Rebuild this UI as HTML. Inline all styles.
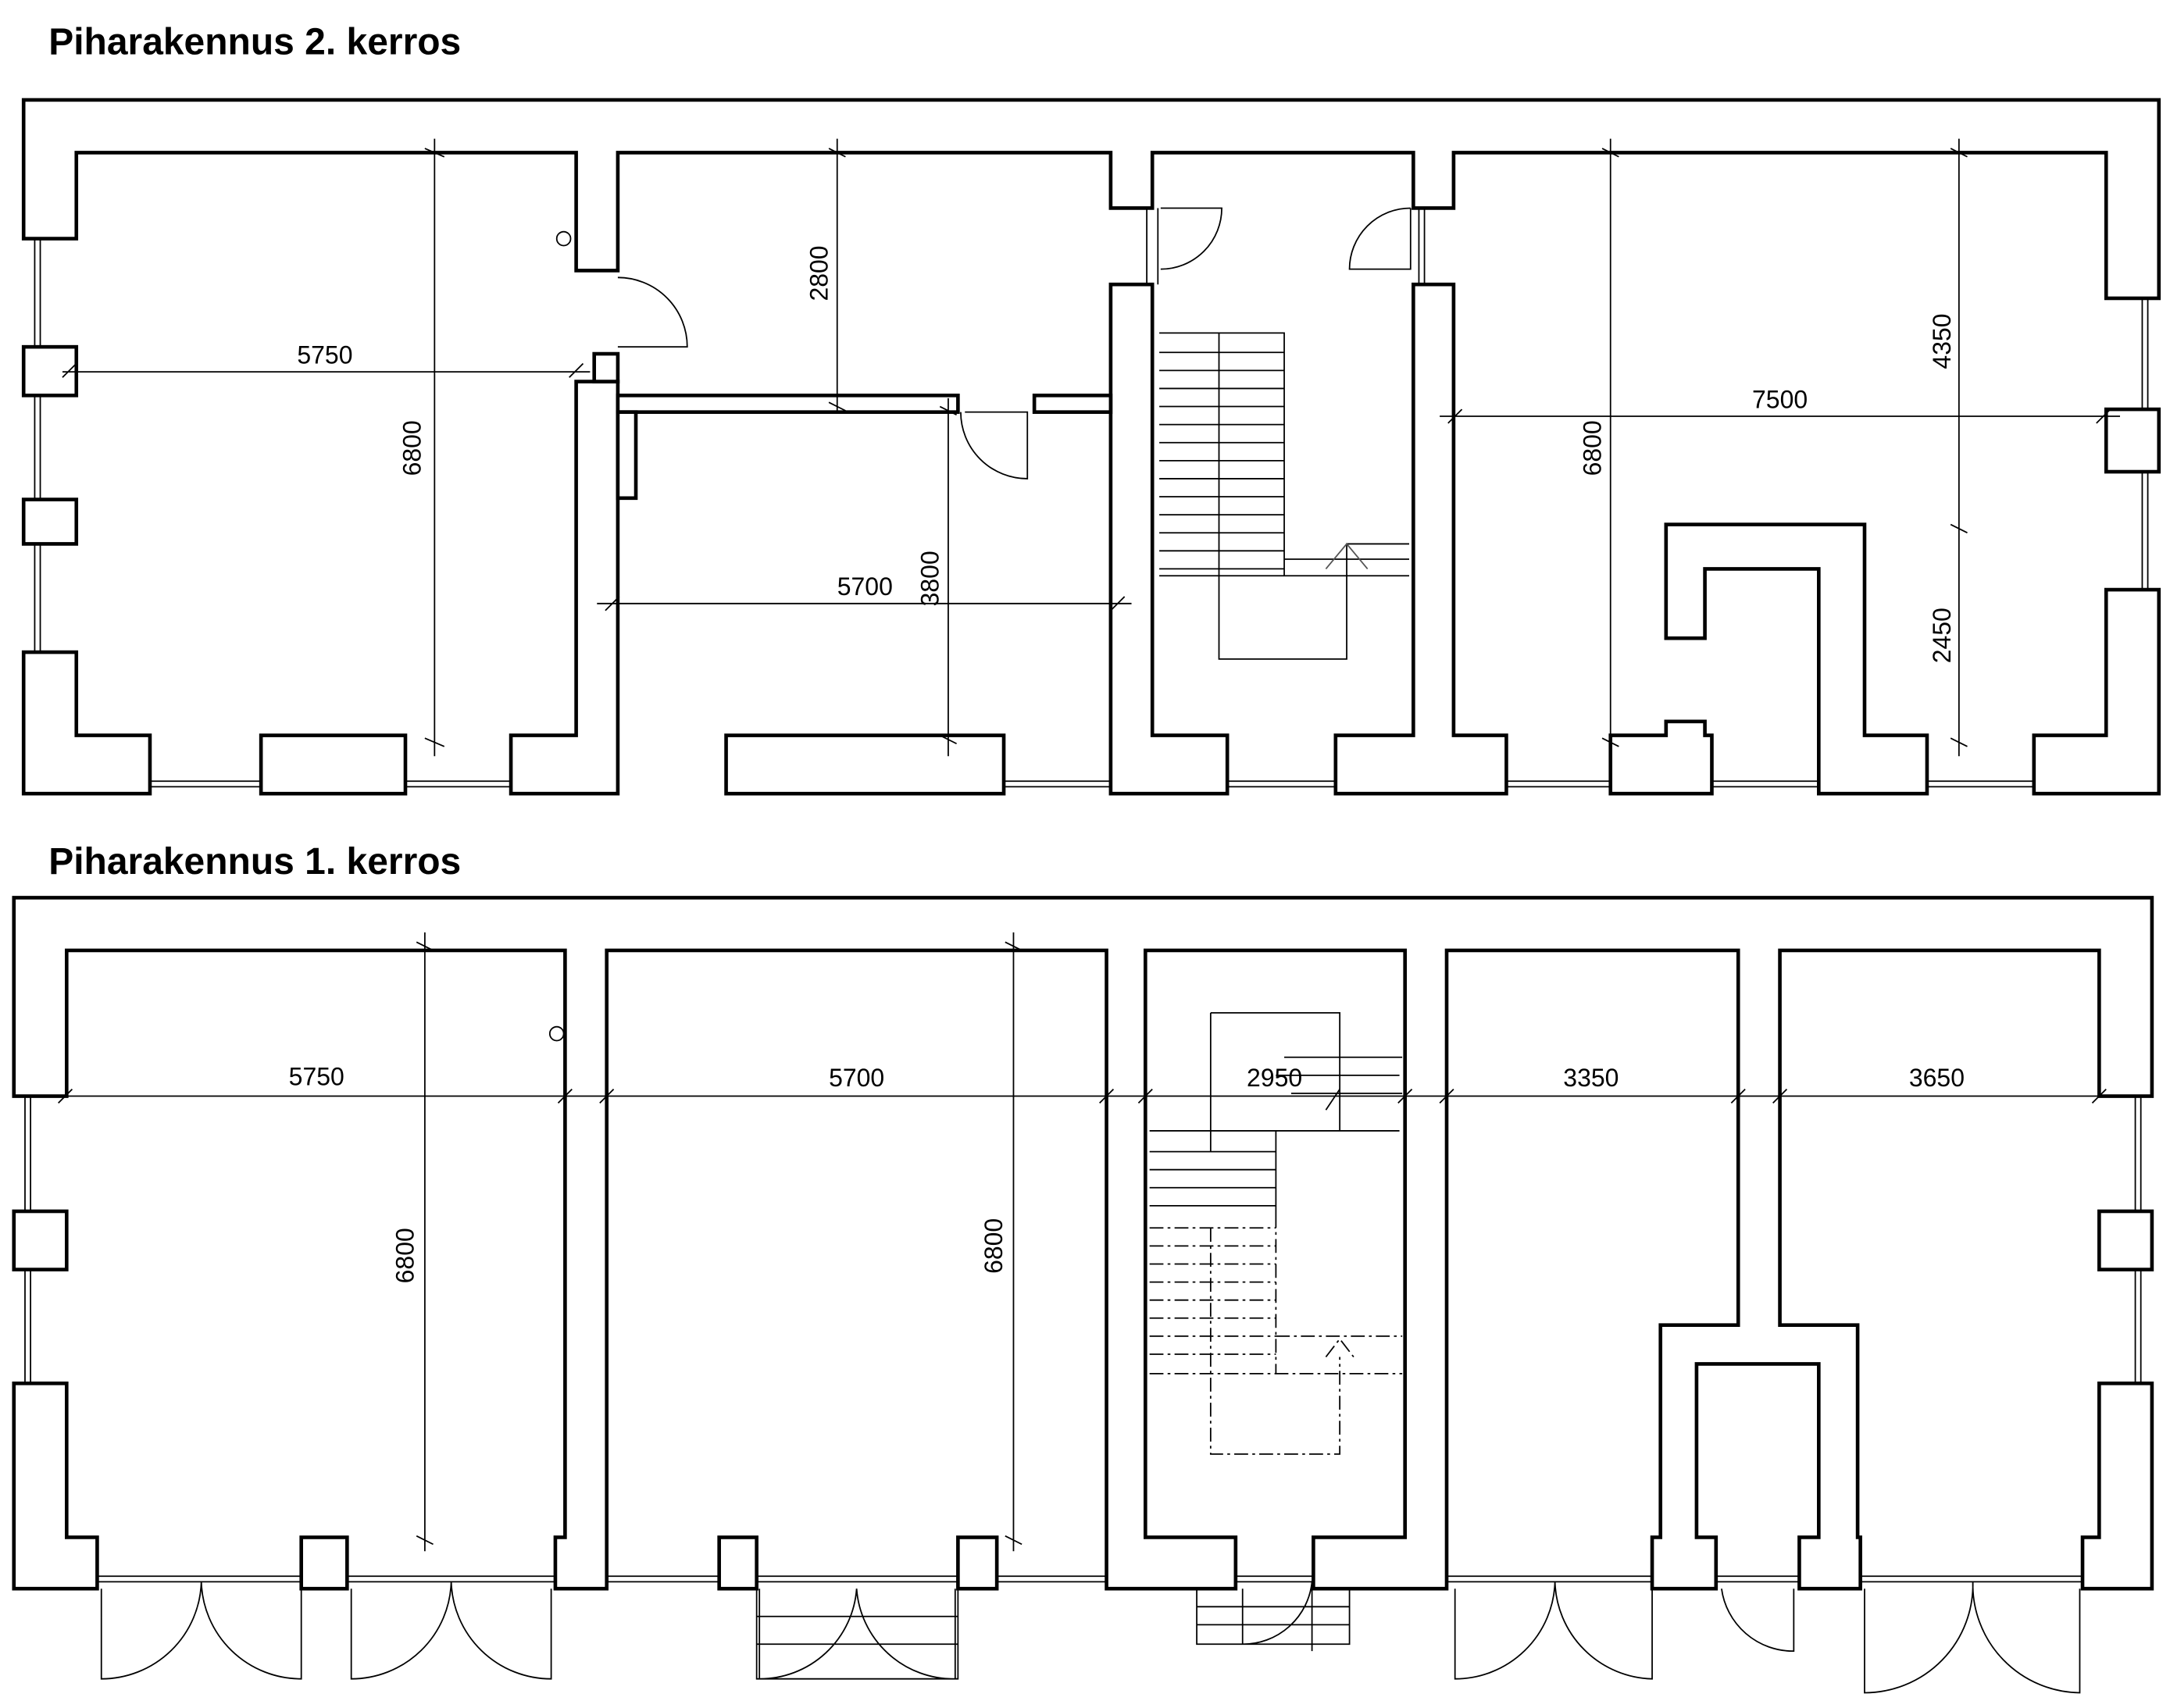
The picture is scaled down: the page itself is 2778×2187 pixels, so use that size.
<!DOCTYPE html>
<html><head><meta charset="utf-8"><style>
html,body{margin:0;padding:0;background:#fff;}
svg{display:block;}
text{font-family:"Liberation Sans",Arial,sans-serif;}
</style></head><body>
<svg width="2778" height="2187" viewBox="0 0 1563 1231" preserveAspectRatio="none" xmlns="http://www.w3.org/2000/svg">
<rect width="1563" height="1231" fill="#fff"/>
<text x="35" y="39" font-size="27" font-weight="bold">Piharakennus 2. kerros</text>
<text x="35" y="630" font-size="27" font-weight="bold">Piharakennus 1. kerros</text>

<g fill="#fff" stroke="#000" stroke-width="2.6" stroke-linejoin="miter">
<path d="M17,172 V72 H1555 V215 H1517 V110 H1047 V150 H1018 V110 H830 V150 H800 V110 H445 V195 H415 V110 H55 V172 Z"/>
<path d="M17,470 H55 V530 H108 V572 H17 Z"/>
<rect x="17" y="250" width="38" height="35"/>
<rect x="17" y="360" width="38" height="32"/>
<rect x="188" y="530" width="104" height="42"/>
<path d="M368,572 V530 H415 V275 H445 V572 Z"/>
<rect x="428" y="255" width="17" height="20"/>
<rect x="523" y="530" width="200" height="42"/>
<path d="M800,572 V205 H830 V530 H884 V572 Z"/>
<path d="M962,572 V530 H1018 V205 H1047 V530 H1085 V572 Z"/>
<path d="M1160,572 V530 H1200 V520 H1228 V530 H1233 V572 Z"/>
<path d="M1200,460 V378 H1343 V530 H1388 V572 H1310 V410 H1228 V460 Z"/>
<path d="M1465,572 V530 H1517 V425 H1555 V572 Z"/>
<rect x="1517" y="295" width="38" height="45"/>
<rect x="445" y="285" width="245" height="12"/>
<rect x="745" y="285" width="55" height="12"/>
<rect x="445" y="297" width="13" height="62"/>
</g>
<g fill="none" stroke="#000" stroke-width="1">
<path d="M108,563 H188 M108,567 H188 M292,563 H368 M292,567 H368 M723,563 H800 M723,567 H800 M884,563 H962 M884,567 H962 M1085,563 H1160 M1085,567 H1160 M1233,563 H1310 M1233,567 H1310 M1388,563 H1465 M1388,567 H1465"/>
<path d="M25,172 V250 M29,172 V250 M25,285 V360 M29,285 V360 M25,392 V470 M29,392 V470"/>
<path d="M1543,215 V295 M1547,215 V295 M1543,340 V425 M1547,340 V425"/>
<path d="M826,150 V205 M834,150 V205 M1022,150 V205 M1026,150 V205"/>
<path d="M445,200 A50,50 0 0 1 495,250 H445" />
<path d="M836,150 H880 A44,44 0 0 1 836,194"/>
<path d="M1016,150 V194 H972 A44,44 0 0 1 1016,150"/>
<path d="M695,297 H740 V345 A48,48 0 0 1 692,297"/>
<circle cx="406" cy="172" r="5"/>
<path d="M835,240 H925 V415 M878,240 V475 H970 V392 H1015 M835,415 H1015 M925,403 H1015"/>
<path d="M835,254 H925 M835,267 H925 M835,280 H925 M835,293 H925 M835,306 H925 M835,319 H925 M835,332 H925 M835,345 H925 M835,358 H925 M835,371 H925 M835,384 H925 M835,397 H925 M835,410 H925"/>
<path d="M955,410 L970,392 L985,410" stroke="#555"/>
</g>
<g fill="none" stroke="#000" stroke-width="1">
<path d="M313,100 V545 M306,107 L320,113 M306,532 L320,538"/>
<path d="M45,268 H425 M45,272 L55,262 M410,272 L420,262"/>
<path d="M603,100 V298 M597,107 L609,113 M597,290 L609,296"/>
<path d="M430,435 H815 M436,440 L446,430 M800,440 L810,430"/>
<path d="M683,287 V545 M677,293 L689,299 M677,530 L689,536"/>
<path d="M1160,100 V545 M1154,107 L1166,113 M1154,532 L1166,538"/>
<path d="M1037,300 H1527 M1043,305 L1053,295 M1510,305 L1520,295"/>
<path d="M1411,100 V545 M1405,107 L1417,113 M1405,378 L1417,384 M1405,532 L1417,538"/>
</g>
<g font-size="18" fill="#000">
<text x="214" y="262">5750</text>
<text x="603" y="429">5700</text>
<text x="1262" y="294">7500</text>
<text transform="translate(303,343) rotate(-90)">6800</text>
<text transform="translate(596,217) rotate(-90)">2800</text>
<text transform="translate(676,437) rotate(-90)">3800</text>
<text transform="translate(1153,343) rotate(-90)">6800</text>
<text transform="translate(1405,266) rotate(-90)">4350</text>
<text transform="translate(1405,478) rotate(-90)">2450</text>
</g>

<g fill="#fff" stroke="#000" stroke-width="2.6">
<path d="M10,790 V647 H1550 V790 H1512 V685 H1282 V955 H1338 V1108 H1340 V1145 H1296 V1108 H1310 V983 H1222 V1108 H1236 V1145 H1190 V1108 H1196 V955 H1252 V685 H1042 V1145 H946 V1108 H1012 V685 H825 V1108 H890 V1145 H797 V685 H437 V1145 H400 V1108 H407 V685 H48 V790 Z"/>
<path d="M10,997 H48 V1108 H70 V1145 H10 Z"/>
<path d="M1550,997 H1512 V1108 H1500 V1145 H1550 Z"/>
<rect x="10" y="873" width="38" height="42"/>
<rect x="1512" y="873" width="38" height="42"/>
<rect x="217" y="1108" width="33" height="37"/>
<rect x="518" y="1108" width="27" height="37"/>
<rect x="690" y="1108" width="28" height="37"/>
</g>
<g fill="none" stroke="#000" stroke-width="1">
<path d="M70,1136 H217 M70,1140 H217 M250,1136 H400 M250,1140 H400 M437,1136 H518 M437,1140 H518 M545,1136 H690 M545,1140 H690 M718,1136 H797 M718,1140 H797 M890,1136 H946 M890,1140 H946 M1042,1136 H1190 M1042,1140 H1190 M1236,1136 H1296 M1236,1140 H1296 M1340,1136 H1500 M1340,1140 H1500"/>
<path d="M18,790 V873 M22,790 V873 M18,915 V997 M22,915 V997 M1538,790 V873 M1542,790 V873 M1538,915 V997 M1542,915 V997"/>
<path d="M73,1145 V1210 A72,72 0 0 0 145,1140 A72,72 0 0 0 217,1210 V1145"/>
<path d="M253,1145 V1210 A72,72 0 0 0 325,1140 A72,72 0 0 0 397,1210 V1145"/>
<path d="M1048,1145 V1210 A72,72 0 0 0 1120,1140 A72,72 0 0 0 1190,1210 V1145"/>
<path d="M1343,1145 V1220 A78,78 0 0 0 1421,1140 A78,78 0 0 0 1498,1220 V1145"/>
<path d="M1240,1145 A52,52 0 0 0 1292,1190 V1145"/>
<path d="M545,1145 V1210 H690 V1145 M545,1165 H690 M545,1185 H690 M547,1145 V1210 A70,70 0 0 0 617,1145 A70,70 0 0 0 688,1210 V1145"/>
<path d="M862,1145 V1185 H972 V1145 M862,1158 H972 M862,1171 H972 M895,1145 V1185 A50,50 0 0 0 945,1140 M945,1145 V1190"/>
<circle cx="401" cy="745" r="5"/>
<path d="M872,730 H965 V815 H1008 M872,730 V830 M919,775 H1008 M828,815 H1008 M919,815 V875"/>
<path d="M828,830 H919 M828,843 H919 M828,856 H919 M828,869 H919"/>
<g stroke-dasharray="10,3,2,3">
<path d="M828,885 H919 M828,898 H919 M828,911 H919 M828,924 H919 M828,937 H919 M828,950 H919 M828,963 H919 M828,976 H919 M828,990 H1010 M919,963 H1010 M872,885 V1048 H965 V978 M919,875 V990"/>
<path d="M955,978 L965,965 L975,978"/>
</g>
<path d="M925,762 H1010 M930,788 H1010 M965,785 L955,800"/>
</g>
<g fill="none" stroke="#000" stroke-width="1">
<path d="M306,672 V1118 M300,679 L312,685 M300,1107 L312,1113"/>
<path d="M730,672 V1118 M724,679 L736,685 M724,1107 L736,1113"/>
<path d="M15,790 H1545"/>
<path d="M42,795 L52,785 M402,795 L412,785 M432,795 L442,785 M792,795 L802,785 M820,795 L830,785 M1007,795 L1017,785 M1037,795 L1047,785 M1247,795 L1257,785 M1277,795 L1287,785 M1507,795 L1517,785"/>
</g>
<g font-size="18" fill="#000">
<text x="208" y="782">5750</text>
<text x="597" y="783">5700</text>
<text x="898" y="783">2950</text>
<text x="1126" y="783">3350</text>
<text x="1375" y="783">3650</text>
<text transform="translate(298,925) rotate(-90)">6800</text>
<text transform="translate(722,918) rotate(-90)">6800</text>
</g>
</svg>
</body></html>
